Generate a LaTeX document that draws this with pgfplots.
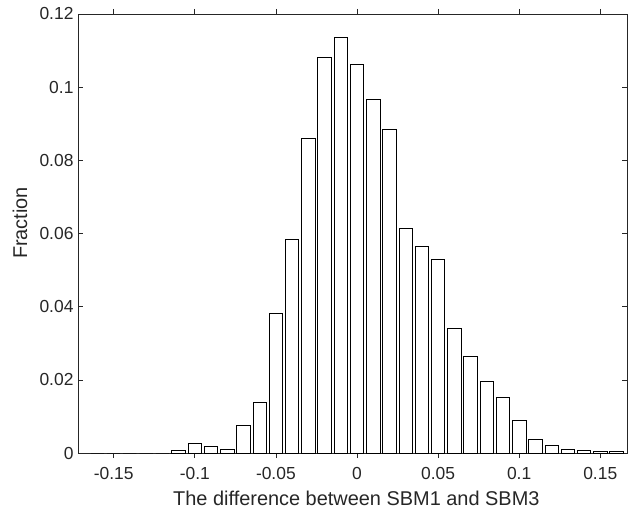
\documentclass[border=0pt]{standalone}
\usepackage{fontspec}
\setmainfont{Liberation Sans}
\usepackage{pgfplots}
\pgfplotsset{compat=1.18}
\definecolor{mgray}{RGB}{38,38,38}
\pgfplotstableread{
x y
-0.16 0
-0.15 0
-0.14 0
-0.13 0
-0.12 0
-0.11 0.0007
-0.10 0.0027
-0.09 0.0017
-0.08 0.0010
-0.07 0.0075
-0.06 0.0139
-0.05 0.0382
-0.04 0.0584
-0.03 0.0860
-0.02 0.1081
-0.01 0.1136
0.00 0.1062
0.01 0.0968
0.02 0.0884
0.03 0.0614
0.04 0.0565
0.05 0.0530
0.06 0.0341
0.07 0.0263
0.08 0.0197
0.09 0.0151
0.10 0.0089
0.11 0.0038
0.12 0.0021
0.13 0.0010
0.14 0.0007
0.15 0.0005
0.16 0.0004
}\histdata
\begin{document}
\begin{tikzpicture}
\begin{axis}[
  at={(0,0)}, anchor=south west,
  scale only axis,
  width=549bp, height=439bp,
  xmin=-0.172, xmax=0.1665,
  ymin=0, ymax=0.12,
  axis line style={mgray, line width=0.6bp},
  tick style={mgray, line width=0.6bp},
  tick align=inside,
  major tick length=5bp,
  xtick={-0.15,-0.1,-0.05,0,0.05,0.1,0.15},
  xticklabels={-0.15,-0.1,-0.05,0,0.05,0.1,0.15},
  ytick={0,0.02,0.04,0.06,0.08,0.1,0.12},
  yticklabels={0,0.02,0.04,0.06,0.08,0.1,0.12},
  ticklabel style={font=\fontsize{17.5}{20}\selectfont, text=mgray},
  xticklabel style={anchor=north, yshift=-6bp},
  yticklabel style={anchor=east, xshift=-1bp},
  xlabel={The difference between SBM1 and SBM3},
  ylabel={Fraction},
  label style={font=\fontsize{20}{22}\selectfont, text=mgray},
  xlabel style={at={(axis description cs:0.507,-0.1035)}, anchor=center},
  ylabel style={at={(axis description cs:-0.1056,0.524)}, anchor=center},
  ybar, bar width=0.0083,
]
\addplot[fill=white, draw=black, line width=0.7bp, bar shift=0] table[x=x,y=y] {\histdata};
\end{axis}
\pgfresetboundingbox
\path[use as bounding box] (-78bp,-61bp) rectangle (551bp,453bp);
\end{tikzpicture}
\end{document}
